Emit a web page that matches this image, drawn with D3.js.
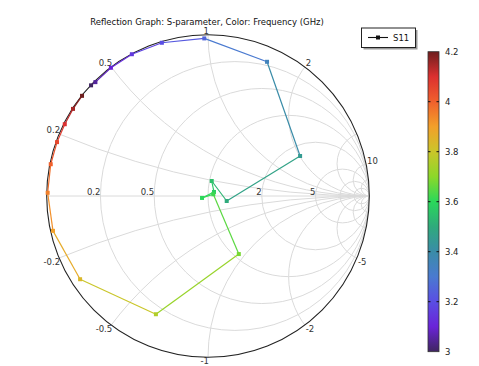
<!DOCTYPE html>
<html>
<head>
<meta charset="utf-8">
<script src="https://cdn.jsdelivr.net/npm/d3@7"></script>
<style>
body { margin: 0; background: #fff; }
text { font-family: "DejaVu Sans", sans-serif; }
</style>
</head>
<body>
<script>
var width = 479, height = 366;

// sweep data: frequency (GHz) and reflection coefficient S11 (real, imag)
var freq   = [3.00, 3.05, 3.10, 3.15, 3.20, 3.25, 3.35, 3.45, 3.50, 3.55, 3.58, 3.60, 3.62, 3.68, 3.76, 3.84, 3.90, 3.95, 4.00, 4.05, 4.10, 4.15, 4.20];
var s11Re  = [-0.725, -0.698, -0.602, -0.472, -0.286, -0.023, 0.366, 0.571, 0.116, 0.023, 0.037, -0.037, 0.033, 0.191, -0.323, -0.793, -0.961, -0.994, -0.975, -0.936, -0.888, -0.837, -0.781];
var s11Im  = [0.686, 0.706, 0.795, 0.879, 0.950, 0.977, 0.832, 0.248, -0.031, 0.093, 0.025, -0.012, 0.011, -0.360, -0.733, -0.516, -0.216, 0.020, 0.197, 0.334, 0.445, 0.540, 0.621];

// smith grid values
var resistances = [0.2, 0.5, 1, 2, 5, 10, 20];
var reactances  = [0.2, 0.5, 1, 2, 5, 10, 20];
var realLabels  = [0.2, 0.5, 2, 5];
var rimLabels   = [0.2, 0.5, 1, 2, 10, -0.2, -0.5, -1, -2, -5];

// colour legend
var cbTicks  = [3, 3.2, 3.4, 3.6, 3.8, 4, 4.2];
var cbStops  = [3.0, 3.1, 3.2, 3.3, 3.4, 3.5, 3.6, 3.7, 3.8, 3.9, 4.0, 4.1, 4.2];
var cbColors = ["#3f2560", "#6a24d8", "#5a4ee4", "#4a7ad0", "#3a8ca8", "#2faa7c", "#2ad85a", "#8cd82a", "#cac62a", "#f2a02a", "#f0602c", "#dc3030", "#6e1e1e"];

var cx = 208, cy = 196, R = 161.3;
var x = d3.scaleLinear().domain([-1, 1]).range([cx - R, cx + R]);
var y = d3.scaleLinear().domain([-1, 1]).range([cy + R, cy - R]);
var color = d3.scaleLinear().domain(cbStops).range(cbColors);

var svg = d3.select("body").append("svg")
	.attr("width", width)
	.attr("height", height);

svg.append("text")
	.attr("x", 207).attr("y", 25)
	.attr("text-anchor", "middle")
	.attr("font-size", 8.5)
	.attr("fill", "#111")
	.text("Reflection Graph: S-parameter, Color: Frequency (GHz)");

svg.append("clipPath").attr("id", "disk")
	.append("circle").attr("cx", cx).attr("cy", cy).attr("r", R);

var grid = svg.append("g").attr("clip-path", "url(#disk)")
	.attr("fill", "none").attr("stroke", "#dadada").attr("stroke-width", 1);

resistances.forEach(function (r) {
	grid.append("circle")
		.attr("cx", x(r / (1 + r))).attr("cy", y(0))
		.attr("r", x(1 / (1 + r)) - x(0));
});
reactances.forEach(function (xv) {
	[1, -1].forEach(function (s) {
		grid.append("circle")
			.attr("cx", x(1)).attr("cy", y(s / xv))
			.attr("r", x(1 / xv) - x(0));
	});
});
grid.append("line")
	.attr("x1", x(-1)).attr("x2", x(1))
	.attr("y1", y(0)).attr("y2", y(0));

svg.append("circle")
	.attr("cx", cx).attr("cy", cy).attr("r", R)
	.attr("fill", "none").attr("stroke", "#222").attr("stroke-width", 1.1);

// labels on the real axis
svg.selectAll("text.rl").data(realLabels).enter().append("text")
	.attr("class", "rl")
	.attr("x", function (r) { return x((r - 1) / (r + 1)); })
	.attr("y", y(0) - 1.5)
	.attr("text-anchor", "end")
	.attr("font-size", 8.5).attr("fill", "#333")
	.text(function (r) { return r; });

// labels on the rim (reactance)
svg.selectAll("text.xl").data(rimLabels).enter().append("text")
	.attr("class", "xl")
	.each(function (xv) {
		var gr = (xv * xv - 1) / (xv * xv + 1), gi = 2 * xv / (xv * xv + 1);
		d3.select(this)
			.attr("x", x(gr) + 1)
			.attr("y", xv > 0 ? y(gi) - 0.5 : y(gi) + 7)
			.attr("text-anchor", gr > 0.01 ? "start" : "end");
	})
	.attr("font-size", 8.5).attr("fill", "#333")
	.text(function (d) { return d; });

// the sweep
var pts = freq.map(function (f, i) { return { f: f, re: s11Re[i], im: s11Im[i] }; });
var segs = d3.pairs(pts);
svg.append("g").selectAll("line").data(segs).enter().append("line")
	.attr("x1", function (d) { return x(d[0].re); })
	.attr("y1", function (d) { return y(d[0].im); })
	.attr("x2", function (d) { return x(d[1].re); })
	.attr("y2", function (d) { return y(d[1].im); })
	.attr("stroke", function (d) { return color((d[0].f + d[1].f) / 2); })
	.attr("stroke-width", 1.2);
svg.append("g").selectAll("rect").data(pts).enter().append("rect")
	.attr("x", function (d) { return x(d.re) - 2; })
	.attr("y", function (d) { return y(d.im) - 2; })
	.attr("width", 4).attr("height", 4)
	.attr("fill", function (d) { return color(d.f); });

// legend
var lg = svg.append("g");
lg.append("rect").attr("x", 363.5).attr("y", 30).attr("width", 54).attr("height", 19.5)
	.attr("fill", "#999");
lg.append("rect").attr("x", 361.5).attr("y", 28).attr("width", 54).attr("height", 19.5)
	.attr("fill", "#fff").attr("stroke", "#222").attr("stroke-width", 1);
lg.append("line").attr("x1", 368).attr("x2", 388).attr("y1", 37.5).attr("y2", 37.5)
	.attr("stroke", "#111").attr("stroke-width", 1.1);
lg.append("rect").attr("x", 376).attr("y", 35.5).attr("width", 4).attr("height", 4).attr("fill", "#111");
lg.append("text").attr("x", 393).attr("y", 40.5).attr("font-size", 8.5).attr("fill", "#111").text("S11");

// colour bar
var cb = d3.scaleLinear().domain([3, 4.2]).range([351.7, 51.7]);
var grad = svg.append("defs").append("linearGradient").attr("id", "cbg")
	.attr("x1", 0).attr("y1", 1).attr("x2", 0).attr("y2", 0);
grad.selectAll("stop").data(cbStops).enter().append("stop")
	.attr("offset", function (d) { return (d - 3) / 1.2; })
	.attr("stop-color", function (d) { return color(d); });
svg.append("rect").attr("x", 428).attr("y", cb(4.2)).attr("width", 11).attr("height", cb(3) - cb(4.2))
	.attr("fill", "url(#cbg)").attr("stroke", "#333").attr("stroke-width", 0.8);
var cbAxis = svg.append("g").attr("transform", "translate(439,0)")
	.call(d3.axisRight(cb).tickValues(cbTicks).tickSize(0).tickPadding(6)
		.tickFormat(function (d) { return +d.toFixed(1); }));
cbAxis.select(".domain").remove();
cbAxis.selectAll("text").attr("font-size", 8.5).attr("fill", "#222").attr("font-family", "DejaVu Sans");
svg.append("g").selectAll("path").data(cbTicks.slice(1, -1)).enter().append("path")
	.attr("d", function (d) { return "M428," + cb(d) + "h2.5M439," + cb(d) + "h-2.5"; })
	.attr("stroke", "#111").attr("stroke-width", 1);
</script>
</body>
</html>
